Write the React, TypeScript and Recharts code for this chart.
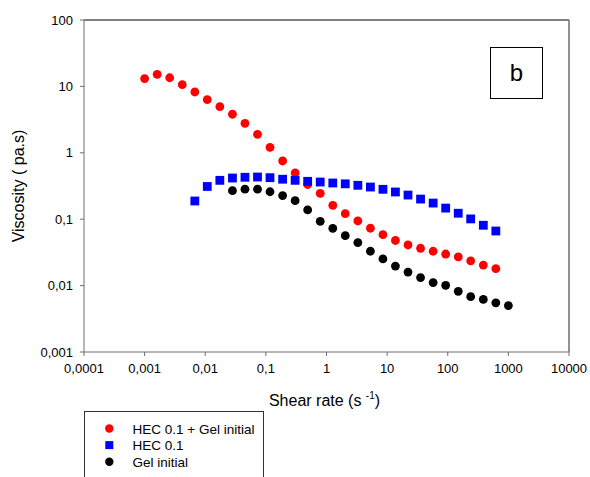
import React from 'react';
import { ScatterChart, Scatter, XAxis, YAxis, ReferenceLine, Label } from 'recharts';

// Shear rate grid (s^-1)
const shearRate = [
  0.001, 0.00161, 0.00259, 0.00418, 0.00673, 0.0108, 0.0174, 0.0281, 0.0452, 0.0728,
  0.117, 0.189, 0.304, 0.489, 0.788, 1.27, 2.04, 3.29, 5.3, 8.53,
  13.7, 22.1, 35.6, 57.4, 92.4, 149, 239, 386, 621, 1000,
];

// HEC 0.1 + Gel initial (starts at first shear rate)
const hecGelStart = 0;
const hecGelViscosity = [
  13.1, 15.2, 13.5, 10.6, 8.24, 6.31, 4.95, 3.81, 2.78, 1.9,
  1.21, 0.753, 0.497, 0.333, 0.245, 0.162, 0.121, 0.094, 0.0731, 0.0584,
  0.0478, 0.0409, 0.0365, 0.0329, 0.0299, 0.027, 0.0235, 0.0204, 0.018,
];

// HEC 0.1
const hecStart = 4;
const hecViscosity = [
  0.188, 0.311, 0.385, 0.417, 0.428, 0.432, 0.422, 0.4, 0.385, 0.372,
  0.363, 0.351, 0.341, 0.324, 0.305, 0.282, 0.257, 0.231, 0.201, 0.175,
  0.147, 0.123, 0.101, 0.081, 0.0664,
];

// Gel initial
const gelStart = 7;
const gelViscosity = [
  0.269, 0.283, 0.283, 0.259, 0.227, 0.19, 0.138, 0.093, 0.0729, 0.0565,
  0.0443, 0.0329, 0.0252, 0.0197, 0.016, 0.0132, 0.0111, 0.0101, 0.0082, 0.0068,
  0.0062, 0.0055, 0.005,
];

const xTicks = [0.0001, 0.001, 0.01, 0.1, 1, 10, 100, 1000, 10000];
const xTickLabels = ['0,0001', '0,001', '0,01', '0,1', '1', '10', '100', '1000', '10000'];
const yTicks = [0.001, 0.01, 0.1, 1, 10, 100];
const yTickLabels = ['0,001', '0,01', '0,1', '1', '10', '100'];

const seriesNames = ['HEC 0.1 + Gel initial', 'HEC 0.1', 'Gel initial'];
const seriesColors = ['#ff0000', '#0000ff', '#000000'];

const toPoints = (values: number[], start: number) =>
  values.map((v, i) => ({ x: shearRate[start + i], y: v }));

const hecGelData = toPoints(hecGelViscosity, hecGelStart);
const hecData = toPoints(hecViscosity, hecStart);
const gelData = toPoints(gelViscosity, gelStart);

const FONT = '"Liberation Sans", Arial, sans-serif';
const AXIS_COLOR = '#6e6e6e';

const circleShape = (color: string) => (props: any) => (
  <circle cx={props.cx} cy={props.cy} r={4.4} fill={color} />
);
const squareShape = (color: string) => (props: any) => (
  <rect x={props.cx - 4.4} y={props.cy - 4.4} width={8.8} height={8.8} fill={color} />
);

const fmtX = (v: number) => {
  const i = xTicks.findIndex((t) => Math.abs(Math.log10(t) - Math.log10(v)) < 1e-6);
  return i >= 0 ? xTickLabels[i] : String(v);
};
const fmtY = (v: number) => {
  const i = yTicks.findIndex((t) => Math.abs(Math.log10(t) - Math.log10(v)) < 1e-6);
  return i >= 0 ? yTickLabels[i] : String(v);
};

const XTitle = (props: any) => {
  const vb = props.viewBox || {};
  const cx = vb.x + vb.width / 2 - 2;
  return (
    <text x={cx} y={vb.y + 54} textAnchor="middle" fontFamily={FONT} fontSize={16} fill="#000">
      <tspan>Shear rate (s </tspan>
      <tspan fontSize={10} dy={-7}>-1</tspan>
      <tspan dy={7}>)</tspan>
    </text>
  );
};

const YTitle = (props: any) => {
  const vb = props.viewBox || {};
  const cy = vb.y + vb.height / 2;
  const x = 24;
  return (
    <text
      x={x}
      y={cy}
      textAnchor="middle"
      fontFamily={FONT}
      fontSize={16}
      fill="#000"
      transform={`rotate(-90, ${x}, ${cy})`}
    >
      Viscosity ( pa.s)
    </text>
  );
};

const LegendBox = () => (
  <div
    style={{
      position: 'absolute',
      left: 84,
      top: 411,
      width: 180,
      height: 80,
      border: '1px solid #333',
      boxSizing: 'border-box',
      fontFamily: FONT,
      fontSize: 13.5,
      color: '#000',
    }}
  >
    <svg width={180} height={80} style={{ position: 'absolute', left: 0, top: 0 }}>
      {seriesNames.map((name, i) => {
        const cy = 16.5 + i * 16.6;
        return (
          <g key={name}>
            {i === 1 ? (
              <rect x={24.3 - 4} y={cy - 4} width={8} height={8} fill={seriesColors[i]} />
            ) : (
              <circle cx={24.3} cy={cy} r={4.2} fill={seriesColors[i]} />
            )}
            <text x={47.5} y={cy + 5} fontFamily={FONT} fontSize={13.5} fill="#000">
              {name}
            </text>
          </g>
        );
      })}
    </svg>
  </div>
);

const PanelTag = () => (
  <div
    style={{
      position: 'absolute',
      left: 490,
      top: 47,
      width: 53,
      height: 52,
      border: '1.5px solid #000',
      boxSizing: 'border-box',
      display: 'flex',
      alignItems: 'center',
      justifyContent: 'center',
      fontFamily: FONT,
      fontSize: 24,
      color: '#000',
      lineHeight: 1,
    }}
  >
    b
  </div>
);

export default function App() {
  return (
    <div style={{ position: 'absolute', left: 0, top: 0, width: 590, height: 477, background: '#fff', overflow: 'hidden' }}>
      <ScatterChart width={590} height={477} margin={{ top: 20, right: 21, left: 0, bottom: 75 }}>
        <XAxis
          type="number"
          dataKey="x"
          scale="log"
          domain={[0.0001, 10000]}
          allowDataOverflow
          ticks={xTicks}
          tickFormatter={fmtX}
          height={50}
          stroke={AXIS_COLOR}
          tickSize={4}
          tickMargin={8}
          tick={{ fill: '#000', fontSize: 13, fontFamily: FONT }}
          interval={0}
        >
          <Label content={<XTitle />} />
        </XAxis>
        <YAxis
          type="number"
          dataKey="y"
          scale="log"
          domain={[0.001, 100]}
          allowDataOverflow
          ticks={yTicks}
          tickFormatter={fmtY}
          width={84}
          stroke={AXIS_COLOR}
          tickSize={4}
          tickMargin={7}
          tick={{ fill: '#000', fontSize: 13, fontFamily: FONT }}
          interval={0}
        >
          <Label content={<YTitle />} />
        </YAxis>
        <ReferenceLine y={100} stroke="#000" strokeWidth={1} />
        <ReferenceLine x={10000} stroke={AXIS_COLOR} strokeWidth={1.5} />
        <Scatter
          name={seriesNames[0]}
          data={hecGelData}
          shape={circleShape(seriesColors[0])}
          isAnimationActive={false}
        />
        <Scatter
          name={seriesNames[1]}
          data={hecData}
          shape={squareShape(seriesColors[1])}
          isAnimationActive={false}
        />
        <Scatter
          name={seriesNames[2]}
          data={gelData}
          shape={circleShape(seriesColors[2])}
          isAnimationActive={false}
        />
      </ScatterChart>
      <PanelTag />
      <LegendBox />
    </div>
  );
}
